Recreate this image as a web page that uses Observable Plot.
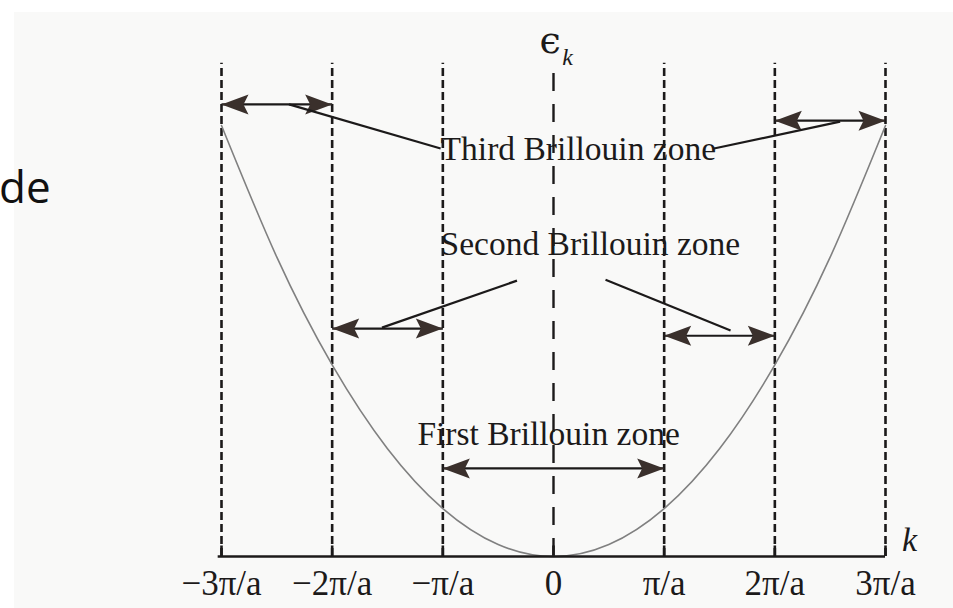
<!DOCTYPE html>
<html>
<head>
<meta charset="utf-8">
<script src="https://cdn.jsdelivr.net/npm/d3@7"></script>
<script src="https://cdn.jsdelivr.net/npm/@observablehq/plot@0.6"></script>
<style>
  html, body { margin: 0; padding: 0; background: #ffffff; }
  #page { position: relative; width: 953px; height: 608px; overflow: hidden; background: #ffffff; }
  #scan { position: absolute; left: 14px; top: 12px; right: 0; bottom: 0; background: #f9f9f8; }
  #chart { position: absolute; left: 0; top: 0; }
  #side { position: absolute; left: -1px; top: 156px; font-family: "Open Sans", sans-serif; font-size: 44px; color: #111; }
</style>
</head>
<body>
<div id="page">
  <div id="scan"></div>
  <div id="chart"></div>
  <div id="side">de</div>
</div>
<script>
// Zone boundaries, in units of π/a
const kTicks = [-3, -2, -1, 0, 1, 2, 3];
const kTickLabels = ["−3π/a", "−2π/a", "−π/a", "0", "π/a", "2π/a", "3π/a"];

// Free-electron band ε(k), sampled along the drawn curve
const curveK = [-3, -2.5, -2, -1.5, -1, -0.5, 0, 0.5, 1, 1.5, 2, 2.5, 3];
const curveE = [9, 6.25, 4, 2.25, 1, 0.25, 0, 0.25, 1, 2.25, 4, 6.25, 9];

// Double-headed arrows spanning each Brillouin zone piece
const zoneName  = ["Third", "Third", "Second", "Second", "First"];
const zoneFrom  = [-3, 2, -2, 1, -1];
const zoneTo    = [-2, 3, -1, 2, 1];
const zoneLevel = [9.44, 9.10, 4.76, 4.61, 1.84];

// Zone labels and where they sit
const labelText  = ["Third Brillouin zone", "Second Brillouin zone", "First Brillouin zone"];
const labelK     = [-1.02, -1.02, -1.23];
const labelLevel = [8.27, 6.29, 2.32];

// Leader lines from labels to arrows
const leaderK1 = [-1.02, 1.45, -0.33, 0.47];
const leaderE1 = [8.52, 8.52, 5.76, 5.78];
const leaderK2 = [-2.39, 2.59, -1.55, 1.60];
const leaderE2 = [9.44, 9.08, 4.78, 4.72];

const curve = curveK.map((k, i) => ({k, e: curveE[i]}));
const arrows = zoneName.map((z, i) => ({zone: z, k1: zoneFrom[i], k2: zoneTo[i], e: zoneLevel[i]}));
const heads = arrows.flatMap(a => [{k: a.k1, e: a.e, dir: "left"}, {k: a.k2, e: a.e, dir: "right"}]);
const labels = labelText.map((t, i) => ({text: t, k: labelK[i], e: labelLevel[i]}));
const leaders = leaderK1.map((k, i) => ({k1: k, e1: leaderE1[i], k2: leaderK2[i], e2: leaderE2[i]}));
const ticks = kTicks.map((k, i) => ({k, label: kTickLabels[i]}));

// Filled, slightly notched arrowheads (tip at the anchor point)
const L = 27, W = 10, N = 22;
const headRight = {draw(ctx) { ctx.moveTo(0, 0); ctx.lineTo(-L, -W); ctx.lineTo(-N, 0); ctx.lineTo(-L, W); ctx.closePath(); }};
const headLeft  = {draw(ctx) { ctx.moveTo(0, 0); ctx.lineTo(L, -W); ctx.lineTo(N, 0); ctx.lineTo(L, W); ctx.closePath(); }};

const ink = "#1c1a1a";
const serif = "'Liberation Serif', 'DejaVu Serif', serif";

const chart = Plot.plot({
  width: 953,
  height: 608,
  marginLeft: 221,
  marginRight: 68,
  marginTop: 125,
  marginBottom: 52,
  x: {domain: [-3, 3], axis: null},
  y: {domain: [0, 9], axis: null},
  style: {background: "transparent", fontFamily: serif},
  marks: [
    // zone boundaries
    Plot.ruleX(kTicks.filter(k => k !== 0), {y1: 0, y2: 10.3, stroke: ink, strokeWidth: 2.6, strokeDasharray: "8,4"}),
    Plot.ruleX([0], {y1: 0, y2: 10.25, stroke: ink, strokeWidth: 2.4, strokeDasharray: "18,13"}),
    // solid tick stubs at the axis
    Plot.ruleX(kTicks, {y1: 0, y2: 0.22, stroke: ink, strokeWidth: 2.6}),
    // the band
    Plot.line(curve, {x: "k", y: "e", curve: "natural", stroke: "#808080", strokeWidth: 1.6}),
    // k axis
    Plot.ruleY([0], {x1: -3.03, x2: 3, stroke: ink, strokeWidth: 2.6}),
    Plot.text(ticks, {x: "k", y: 0, text: "label", dy: 27, fontSize: 35, fill: ink, lineAnchor: "middle"}),
    Plot.text(["k"], {x: 3.15, y: 0.12, text: d => d, textAnchor: "start", lineAnchor: "bottom", fontSize: 34, fontStyle: "italic", fill: ink}),
    Plot.text(["ϵ"], {x: -0.03, y: 10.52, text: d => d, lineAnchor: "bottom", fontSize: 38, fill: ink, fontFamily: "'DejaVu Serif', serif"}),
    Plot.text(["k"], {x: 0.08, y: 10.27, text: d => d, textAnchor: "start", lineAnchor: "bottom", fontSize: 24, fontStyle: "italic", fill: ink}),
    // zone arrows and leaders
    Plot.link(arrows, {x1: "k1", x2: "k2", y1: "e", y2: "e", stroke: ink, strokeWidth: 2.2}),
    Plot.dot(heads.filter(h => h.dir === "right"), {x: "k", y: "e", symbol: headRight, fill: "#3a302c", stroke: "none"}),
    Plot.dot(heads.filter(h => h.dir === "left"), {x: "k", y: "e", symbol: headLeft, fill: "#3a302c", stroke: "none"}),
    Plot.link(leaders, {x1: "k1", y1: "e1", x2: "k2", y2: "e2", stroke: ink, strokeWidth: 2.2}),
    Plot.text(labels, {x: "k", y: "e", text: "text", textAnchor: "start", lineAnchor: "bottom", fontSize: 33.5, fill: ink})
  ]
});
document.getElementById("chart").appendChild(chart);
</script>
</body>
</html>
